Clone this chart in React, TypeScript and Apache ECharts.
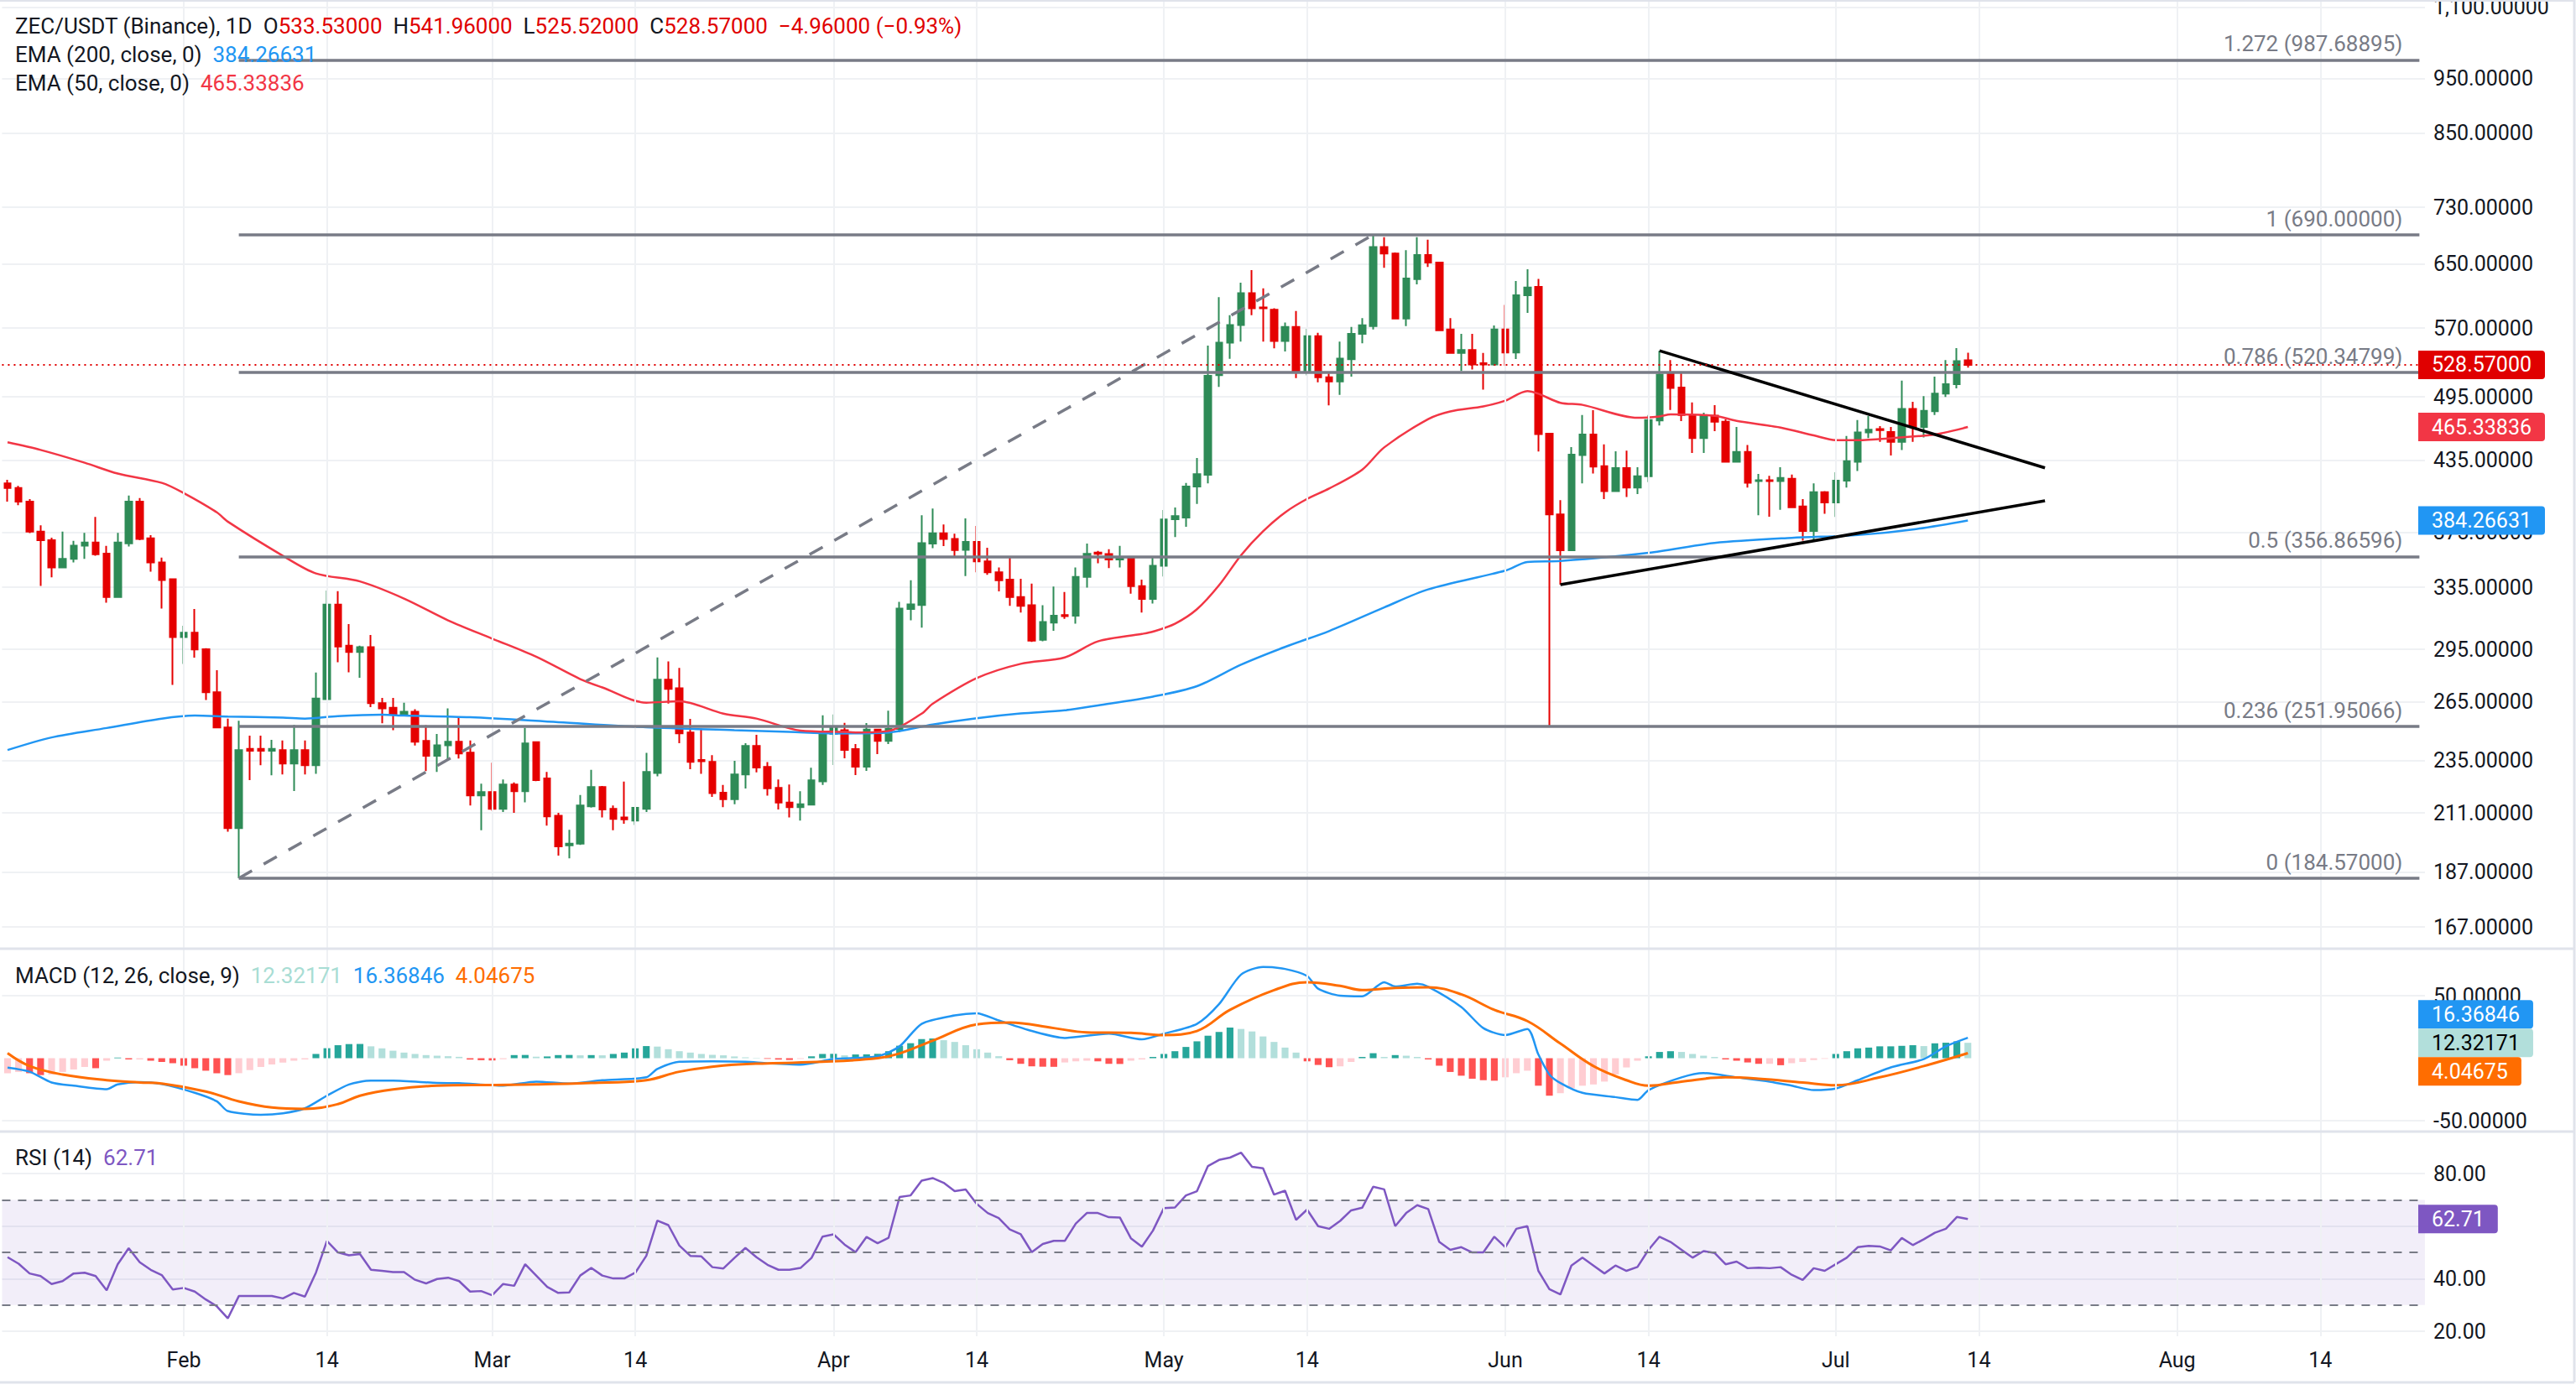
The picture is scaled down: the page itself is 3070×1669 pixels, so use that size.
import { useEffect, useRef } from "react";
import * as echarts from "echarts";

// ---------------- DATA ----------------
const FIRST_DAY_UTC = Date.UTC(2026, 0, 16); // first category: 2026-01-16
const DAY_COUNT = 220; // through 2026-08-23 (empty future space)

// daily candles [open, high, low, close], starting 2026-01-16
const candles: number[][] = [
  [414.5, 417.7, 399.4, 410.6], [410.6, 412.4, 396.4, 399.4], [399.4, 401.5, 374.4, 375.6], [375.6, 380.4, 336.0, 369.0],
  [369.0, 370.9, 341.9, 348.9], [348.9, 375.6, 348.9, 355.1], [355.1, 368.5, 352.6, 364.9], [364.9, 374.6, 355.1, 367.3],
  [367.3, 387.0, 357.4, 358.5], [359.0, 364.7, 324.6, 328.4], [328.4, 374.6, 328.0, 367.3], [366.6, 404.3, 364.2, 399.4],
  [399.4, 402.3, 369.0, 369.9], [370.4, 372.8, 346.0, 352.6], [352.6, 356.0, 320.8, 340.1], [340.6, 341.0, 274.3, 302.5],
  // Feb
  [302.5, 309.7, 286.4, 305.3], [305.3, 320.5, 290.0, 295.0], [295.1, 295.7, 265.9, 270.2], [270.2, 282.7, 250.9, 251.4],
  [251.4, 256.0, 203.0, 204.5], [204.5, 254.8, 184.57, 240.0], [240.6, 247.2, 225.7, 239.7], [240.6, 247.2, 232.7, 239.7],
  [239.7, 245.1, 227.9, 240.6], [240.0, 244.8, 228.3, 233.5], [233.5, 252.7, 220.7, 240.0], [240.0, 244.8, 228.3, 232.7],
  [232.7, 281.3, 228.6, 266.7], [266.4, 332.8, 266.4, 323.4], [323.4, 332.4, 287.3, 296.8], [297.2, 310.7, 281.5, 293.4],
  [293.4, 297.2, 278.3, 296.3], [296.3, 303.9, 262.1, 264.2], [264.2, 267.1, 253.5, 261.4], [261.7, 267.1, 250.0, 258.4],
  [258.4, 264.4, 258.0, 259.6], [259.6, 260.9, 242.2, 244.1], [244.5, 252.6, 229.9, 237.2], [237.2, 248.0, 229.5, 242.4],
  [242.4, 261.4, 235.1, 244.1], [244.1, 256.5, 235.9, 238.3], [238.7, 244.8, 214.2, 218.7], [218.7, 224.0, 203.6, 220.2],
  // Mar
  [220.2, 233.9, 211.9, 212.8], [212.8, 226.0, 211.4, 223.6], [223.6, 224.6, 211.0, 220.6], [220.6, 251.2, 215.6, 243.3],
  [243.9, 244.1, 225.2, 225.7], [226.4, 229.5, 205.6, 209.5], [209.8, 211.0, 193.3, 197.0], [197.4, 203.8, 192.2, 198.1],
  [198.1, 218.9, 197.6, 214.2], [213.9, 230.5, 213.3, 222.5], [222.5, 223.0, 209.0, 212.5], [212.8, 214.2, 203.6, 208.4],
  [209.0, 225.0, 206.4, 208.2], [207.7, 213.6, 205.8, 213.2], [212.8, 238.6, 211.4, 229.5], [229.0, 290.2, 227.4, 277.2],
  [277.2, 287.8, 264.0, 272.1], [272.4, 284.0, 243.4, 248.4], [248.8, 255.8, 230.8, 234.3], [235.2, 250.8, 228.6, 234.6],
  [234.3, 237.5, 218.0, 219.7], [219.9, 223.4, 213.5, 217.0], [217.0, 234.8, 214.8, 228.3], [228.3, 243.4, 221.8, 242.0],
  [242.0, 247.6, 229.3, 231.6], [231.9, 234.2, 218.6, 221.9], [222.1, 226.0, 212.5, 215.5], [215.5, 223.6, 209.0, 213.5],
  [213.5, 220.6, 207.7, 214.8], [214.6, 231.5, 214.6, 225.6], [225.1, 257.7, 223.4, 248.4],
  // Apr
  [248.1, 258.2, 232.8, 251.2], [250.0, 253.8, 236.0, 240.1], [240.5, 243.0, 228.0, 232.0], [232.0, 253.7, 230.0, 250.3],
  [250.3, 250.6, 238.0, 244.6], [244.6, 260.2, 243.0, 250.6], [250.6, 325.2, 249.0, 320.8], [320.5, 339.9, 313.1, 323.5],
  [323.1, 388.4, 308.5, 366.8], [366.4, 393.8, 363.0, 374.3], [374.3, 381.1, 364.6, 369.9], [369.9, 373.9, 355.9, 361.6],
  [361.8, 385.9, 342.8, 367.7], [367.7, 379.9, 345.5, 353.3], [353.3, 363.4, 343.7, 345.5], [345.5, 348.9, 332.2, 339.9],
  [340.4, 355.9, 322.5, 328.4], [328.4, 341.0, 318.2, 322.5], [322.9, 337.6, 299.6, 300.3], [300.9, 322.9, 300.0, 312.0],
  [311.6, 335.6, 306.4, 316.1], [316.5, 331.8, 314.1, 315.8], [316.1, 348.9, 311.0, 342.3], [342.3, 366.4, 334.9, 358.9],
  [359.8, 361.0, 351.9, 358.9], [358.6, 362.2, 348.5, 354.7], [354.7, 364.8, 348.9, 355.9], [355.5, 356.0, 330.7, 335.8],
  [335.8, 340.4, 318.2, 327.1], [327.1, 357.0, 324.1, 350.1],
  // May
  [350.1, 392.6, 342.6, 385.0], [385.2, 394.6, 371.4, 387.7], [386.5, 415.0, 379.3, 412.0], [412.0, 436.8, 397.4, 422.5],
  [421.9, 549.8, 414.5, 516.9], [517.6, 607.2, 505.3, 553.3], [553.3, 585.1, 535.2, 573.6], [573.6, 625.6, 554.3, 612.3],
  [612.3, 641.9, 585.1, 593.6], [594.6, 618.2, 554.3, 593.6], [591.9, 593.7, 546.7, 555.0], [555.0, 576.6, 543.2, 571.2],
  [571.2, 590.3, 514.5, 521.6], [521.6, 569.1, 517.3, 560.5], [560.5, 564.4, 510.1, 515.3], [515.3, 519.4, 486.4, 510.8],
  [510.8, 554.3, 497.1, 535.5], [534.8, 571.2, 516.0, 563.3], [563.3, 581.8, 552.4, 573.2], [572.4, 690.0, 568.3, 673.1],
  [673.1, 686.7, 645.0, 664.1], [664.1, 665.4, 580.7, 581.3], [581.3, 668.5, 572.4, 630.9], [630.2, 686.7, 623.4, 662.2],
  [662.2, 683.1, 645.9, 651.9], [651.9, 653.0, 566.5, 567.5], [568.3, 581.6, 541.0, 541.7], [541.7, 563.3, 521.9, 545.0],
  [545.0, 563.3, 523.6, 529.1], [530.4, 541.7, 502.3, 528.9], [528.9, 573.1, 527.6, 568.3],
  // Jun
  [568.3, 597.7, 527.6, 542.2], [542.2, 627.7, 535.0, 609.6], [609.6, 643.1, 588.1, 619.4], [620.3, 630.5, 442.6, 458.6],
  [459.0, 459.5, 252.0, 389.0], [389.0, 400.6, 336.9, 361.4], [361.4, 446.6, 361.0, 439.7], [439.4, 476.9, 414.5, 458.3],
  [458.3, 481.7, 423.1, 429.0], [429.4, 449.1, 401.5, 408.0], [408.0, 442.7, 408.0, 427.8], [427.8, 443.4, 403.2, 411.0],
  [411.0, 428.6, 405.6, 420.6], [420.6, 476.9, 415.7, 472.1], [471.6, 544.1, 466.7, 518.3], [518.8, 533.9, 481.9, 504.1],
  [504.5, 519.7, 471.0, 477.0], [477.0, 489.4, 441.3, 454.9], [454.9, 479.2, 441.3, 476.4], [476.4, 486.7, 461.4, 470.5],
  [470.5, 472.9, 432.6, 433.4], [433.4, 465.4, 433.4, 442.2], [442.2, 448.6, 411.0, 415.2], [416.5, 422.7, 388.4, 417.2],
  [417.2, 421.1, 387.2, 416.5], [416.5, 428.6, 392.7, 419.3], [418.6, 422.2, 394.4, 394.8], [395.4, 401.5, 368.6, 376.0],
  [376.0, 414.5, 369.7, 407.2], [407.2, 408.0, 389.6, 398.7],
  // Jul
  [398.7, 424.1, 387.0, 416.9], [416.9, 456.9, 411.0, 433.9], [433.4, 472.1, 425.3, 460.2], [460.2, 476.0, 454.9, 462.8],
  [463.4, 466.1, 451.5, 462.4], [460.7, 465.4, 438.9, 451.5], [451.5, 511.7, 443.9, 483.0], [483.0, 490.0, 451.5, 465.4],
  [465.4, 495.8, 455.5, 481.1], [480.6, 515.9, 476.9, 498.4], [498.4, 533.9, 494.9, 508.0], [508.0, 547.1, 503.8, 532.7],
  [533.53, 541.96, 525.52, 528.57],
];

// EMA lines, sampled [day index from 2026-01-16, value]
const ema50Pts: number[][] = [
  [0, 451], [3, 444], [7, 432.5], [10, 423], [14, 415], [16, 406.4], [19, 390.7], [20, 383.3], [25, 357.4], [28, 344.7],
  [32, 339.1], [36, 327.4], [40, 313.1], [44, 301.6], [48, 290.6], [52, 277.6], [54, 272.9], [58, 264.5], [61, 265.2],
  [65, 258.6], [68, 256], [72, 249.8], [76, 249.1], [77, 248.8], [80, 249.6], [83, 258.6], [84, 263.9], [88, 278.1],
  [92, 286.4], [96, 290.2], [99, 299.9], [103, 304.5], [104, 305.9], [106, 310.9], [108, 320.3], [110, 336.4],
  [112, 357.8], [114, 375.8], [116, 390.6], [118, 401.6], [120, 410.2], [123, 426.4], [125, 446.3], [129, 473],
  [131, 480.5], [134, 485.5], [136, 491.2], [138, 501], [139, 498.2], [141, 489], [143, 487], [148, 474.2],
  [150, 475.6], [151, 477.6], [155, 476.2], [157, 471.3], [161, 464.8], [164, 457.4], [166, 453], [168, 453],
  [171, 454.8], [175, 458.3], [178, 465.33836],
];
const ema200Pts: number[][] = [
  [0, 240], [4, 246.3], [9, 251.1], [14, 256], [17, 257.6], [20, 257.1], [25, 256.5], [27, 256], [30, 257.3], [34, 258],
  [36, 257.6], [42, 256.7], [50, 254.1], [58, 251.5], [66, 250], [71, 249.1], [75, 248.3], [80, 248.8], [84, 252.9],
  [88, 256.2], [92, 258.7], [96, 260.4], [99, 263], [104, 267.8], [108, 273.6], [112, 285.9], [116, 296.5],
  [120, 306.3], [125, 321.5], [129, 333.6], [136, 346.7], [138, 352.8], [141, 353.6], [149, 359.6], [155, 366.9],
  [162, 370.8], [168, 372.9], [173, 377.2], [178, 384.26631],
];

// MACD (12, 26, close, 9)
const macdPts: number[][] = [
  [0, -7.5], [2, -10.8], [4, -19.4], [6, -22], [9, -24.8], [10, -21], [12, -19.1], [14, -20.7], [17, -27.7], [19, -34.5],
  [20, -42.3], [23, -45.3], [25, -44.1], [27, -40.1], [29, -30], [31, -21], [33, -18], [35, -18], [39, -19.8], [41, -20],
  [45, -22], [48, -18.7], [51, -20.3], [54, -17.6], [58, -15.3], [59, -8.6], [61, -2.9], [64, -2.5], [67, -2.9],
  [69, -4.1], [72, -5.2], [75, -0.7], [79, 1.6], [81, 9.5], [83, 27.5], [86, 34.2], [88, 36], [90, 30.2], [93, 21.8],
  [96, 16.2], [100, 19.6], [103, 15.1], [105, 19.6], [108, 27.5], [110, 43.2], [112, 66.9], [114, 73], [116, 71.4],
  [118, 65.8], [119, 55.6], [121, 50], [123, 49.5], [125, 60.8], [126, 57.4], [128, 59.5], [129, 57.2], [132, 41],
  [134, 24.1], [136, 18.5], [138, 23.4], [139, 3], [140, -13], [141, -19.8], [143, -27.7], [146, -31.1], [148, -33.3],
  [149, -25.5], [152, -15.3], [154, -11.9], [157, -15.3], [160, -18.7], [162, -22], [164, -25.5], [166, -24.3],
  [168, -17.6], [171, -7.4], [174, -0.7], [176, 9.5], [178, 16.36846],
];
const signalPts: number[][] = [
  [0, 4], [2, -6.3], [5, -13.1], [9, -17.6], [12, -19.4], [14, -20.3], [18, -26.6], [21, -34.5], [24, -39.4], [27, -40.5],
  [30, -36.7], [32, -30], [35, -25], [39, -22], [44, -21.4], [48, -21], [53, -19.8], [58, -17.6], [61, -10.8], [65, -5.9],
  [69, -4.1], [74, -2.9], [79, 0], [81, 3.8], [84, 14], [88, 27], [91, 28.6], [95, 24.1], [98, 20.7], [102, 20.3],
  [105, 18.5], [108, 21.8], [111, 38.7], [115, 54.5], [118, 60.8], [121, 57.9], [123, 54.5], [126, 56.3], [129, 56.8],
  [132, 51.1], [135, 38.7], [138, 29.7], [141, 11.7], [144, -6.3], [147, -17.6], [149, -22], [152, -18.7], [156, -15.3],
  [159, -16.4], [163, -19.4], [166, -21.6], [170, -15.3], [174, -6.3], [178, 4.04675],
];
const macdHist: number[] = [
  -12, -11, -12, -13.5, -13, -11, -9, -7, -8, -2, 0.5, -1, -1, -2, -3, -4,
  -6, -8, -10, -12, -13.5, -12, -9.5, -7, -5, -3.5, -2, -1, 3.4, 8, 10.4, 11.3, 11.4, 9.5, 7.9, 6, 4.5, 3.4, 2.5, 2,
  1.6, 1.1, -1.1, -1.6, -1.8, -0.8, 2.5, 2.6, 1.2, 1.4, 2.5, 2.6, 2.3, 2.5, 2.3, 3.4, 4.5, 7.9, 9.7, 9.3, 7.2, 5.6,
  4.5, 3.4, 2.7, 2.3, 1.4, 0.7, 0.3, -0.5, -1.1, -1.4, -0.6, 1.5, 3.4, 3.5, 2.3, 3, 3.1, 3.5, 5.6, 10, 12, 15.3, 15.8,
  14.4, 13, 10.4, 7.2, 4.5, 1.6, -1.6, -4.5, -6.5, -6.8, -6.9, -3.4, -2.5, -2, -2.5, -4.5, -4.6, -2, -1, 1, 3.4, 5.6,
  9, 13.5, 18, 21, 24.5, 23.4, 21.4, 17.4, 13, 8.5, 4.5, -2.5, -5.4, -7.2, -6.5, -3, 1, 4, 1, 2.5, 2, 1, -1, -6, -11,
  -14, -16.4, -17.6, -18, -15.3, -12, -10, -22, -30, -28, -24, -22, -21, -18.7, -13, -7.4, -2, 1.5, 5, 5.6, 5, 3.4,
  2, 1, -1, -2, -3.4, -4.5, -4.5, -5.6, -4, -3, -1.5, -0.5, 3.4, 5.6, 7.9, 8.5, 9.5, 9.5, 9.9, 10.4, 9.7, 11.9, 12.4,
  13.5, 12.32171,
];
// RSI (14)
const rsi: number[] = [
  48.2, 45.7, 42, 41, 38, 39.1, 42, 42.3, 41, 35.6, 45.5, 51.6, 46.3, 43.4, 41.4, 35.9,
  36.5, 35.1, 32.1, 29.5, 24.9, 33.4, 33.4, 33.4, 33.4, 32.5, 34.6, 33.2, 42.3, 54.4, 50, 48.9, 49.4, 43.4, 43, 42.5,
  42.5, 39.6, 38.2, 39.9, 40.4, 39.1, 35.1, 35.3, 33.7, 38, 37.3, 45.5, 41.2, 36.9, 34.6, 34.8, 41.2, 44.1, 41.2, 40.1,
  40.1, 42.3, 48.7, 62.1, 60.4, 52.6, 48.7, 48.5, 44.4, 43.9, 47.9, 51.7, 48.2, 45.3, 43.4, 43.4, 44.1, 47.9, 56,
  56.9, 53, 50.1, 55.9, 53.5, 55.6, 71.1, 71.7, 77.3, 78.3, 76.5, 73.3, 74, 68.5, 65, 63.1, 58.8, 56.9, 50.1, 53.2,
  54.4, 54.4, 61, 65, 65, 63.4, 63.3, 55.4, 52.2, 58.3, 66.9, 67.1, 71.7, 73.3, 82.9, 85.2, 86.1, 88, 82.6, 82, 72,
  73.5, 62.4, 66.3, 60, 59, 62, 66, 67, 75, 74, 60, 65, 68, 66.5, 54, 51, 52, 50, 50, 56, 52, 59, 60,
  43, 36, 34, 45, 48, 45, 42, 45, 43, 44.5, 51, 56, 54, 51, 48, 50.5, 49.8, 45.5, 46.5, 44, 44.2, 44, 44.4, 41.5, 39.5,
  44, 43, 45.5, 48, 52, 52.5, 52.3, 50.8, 55.5, 52.8, 55, 57.5, 59, 63.5, 62.71,
];

// price-axis ticks and Fibonacci levels
const priceTicks = [1100, 950, 850, 730, 650, 570, 495, 435, 375, 335, 295, 265, 235, 211, 187, 167];
const macdTicks = [-50, 50];
const rsiTicks = [20, 40, 60, 80];
const fibRatios = ["1.272", "1", "0.786", "0.5", "0.236", "0"];
const fibPrices = [987.68895, 690, 520.34799, 356.86596, 251.95066, 184.57];
const fibStart = "2026-02-06";
const swingLine = [["2026-02-06", 184.57], ["2026-05-20", 690]];
const triangleUpper = [["2026-06-15", 544.1], ["2026-07-20", 428]];
const triangleLower = [["2026-06-06", 336.9], ["2026-07-20", 400]];
const lastClose = 528.57;
const ema200Last = 384.26631;
const ema50Last = 465.33836;
const macdLast = 16.36846;
const histLast = 12.32171;
const signalLast = 4.04675;
const rsiLast = 62.71;

// ---------------- STYLE ----------------
const FONT = "Roboto";
const TXT = "#131722";
const GRIDC = "#eff1f4";
const UP = "#2e8b57";
const DOWN = "#e50000";
const MONTHS = ["Jan", "Feb", "Mar", "Apr", "May", "Jun", "Jul", "Aug", "Sep", "Oct", "Nov", "Dec"];

const categories: string[] = Array.from({ length: DAY_COUNT }, (_, i) =>
  new Date(FIRST_DAY_UTC + i * 86400000).toISOString().slice(0, 10)
);
const gridDates = categories.filter((c) => c.endsWith("-01") || c.endsWith("-14"));

const DAY_W = 13.125;
const GRID_LEFT = 2.44;
const GRID_W = DAY_W * DAY_COUNT;

function histColor(i: number) {
  const v = macdHist[i];
  const p = i > 0 ? macdHist[i - 1] : v;
  if (v >= 0) return v >= p ? "#26a69a" : "#b2dfdb";
  return v < p ? "#ff5252" : "#ffcdd2";
}

function vGridMarkLine() {
  return {
    silent: true,
    symbol: ["none", "none"],
    label: { show: false },
    lineStyle: { color: GRIDC, width: 2, type: "solid" },
    data: gridDates.map((d) => ({ xAxis: d })),
  };
}

export default function App() {
  const ref = useRef<HTMLDivElement>(null);
  useEffect(() => {
    if (!ref.current) return;
    const chart = echarts.init(ref.current, null, { renderer: "svg" });

    const xAxisBase = (gi: number, showLabel: boolean) => ({
      type: "category",
      gridIndex: gi,
      data: categories,
      boundaryGap: true,
      axisLine: { show: false },
      axisTick: { show: false },
      splitLine: { show: false },
      axisLabel: showLabel
        ? {
            show: true,
            interval: (_i: number, v: string) => v.endsWith("-01") || v.endsWith("-14"),
            formatter: (v: string) => (v.endsWith("-01") ? MONTHS[+v.slice(5, 7) - 1] : "14"),
            color: TXT,
            fontSize: 25,
            fontFamily: FONT,
            margin: 16,
          }
        : { show: false },
    });

    const yLabel = (fmt: (v: number) => string, ticks: number[]) => ({
      axisLine: { show: false },
      axisTick: { show: false, customValues: ticks },
      axisLabel: {
        customValues: ticks,
        formatter: fmt,
        color: TXT,
        fontSize: 25,
        fontFamily: FONT,
        margin: 10,
        showMinLabel: true,
        showMaxLabel: true,
      },
      splitLine: { show: true, lineStyle: { color: GRIDC, width: 2 } },
    });

    const fibMark = fibPrices.map((p, i) => [
      {
        name: `${fibRatios[i]} (${p.toFixed(5)})`,
        coord: [fibStart, p],
        lineStyle: { color: "#787b86", width: 3.5, type: "solid" },
        label: {
          show: true,
          position: "insideEndTop",
          formatter: "{b}",
          color: "#787b86",
          fontSize: 26,
          fontFamily: FONT,
          distance: [20, 6],
        },
      },
      { coord: [categories[DAY_COUNT - 1], p] },
    ]);
    const plainLine = (pts: any[], color: string, type: any) => [
      { coord: pts[0], lineStyle: { color, width: 3.5, type }, label: { show: false } },
      { coord: pts[1] },
    ];

    const option: any = {
      animation: false,
      backgroundColor: "#ffffff",
      textStyle: { fontFamily: FONT },
      grid: [
        { left: GRID_LEFT, top: 0, width: GRID_W, height: 1130, outerBoundsMode: "none" },
        { left: GRID_LEFT, top: 1131, width: GRID_W, height: 218, outerBoundsMode: "none" },
        { left: GRID_LEFT, top: 1349, width: GRID_W, height: 244, outerBoundsMode: "none" },
      ],
      xAxis: [xAxisBase(0, false), xAxisBase(1, false), xAxisBase(2, true)],
      yAxis: [
        {
          type: "log",
          gridIndex: 0,
          position: "right",
          min: 160.0,
          max: 1116.6,
          ...yLabel(
            (v: number) =>
              v.toLocaleString("en-US", { minimumFractionDigits: 5, maximumFractionDigits: 5 }),
            priceTicks
          ),
        },
        {
          type: "value",
          gridIndex: 1,
          position: "right",
          min: -58.7,
          max: 87.6,
          ...yLabel((v: number) => v.toFixed(5), macdTicks),
        },
        {
          type: "value",
          gridIndex: 2,
          position: "right",
          min: 18.1,
          max: 96,
          ...yLabel((v: number) => v.toFixed(2), rsiTicks),
        },
      ],
      series: [
        // grid lines (main)
        { type: "line", xAxisIndex: 0, yAxisIndex: 0, data: [], z: 0, silent: true, markLine: vGridMarkLine() },
        {
          type: "candlestick",
          xAxisIndex: 0,
          yAxisIndex: 0,
          z: 2,
          barWidth: 8,
          data: candles.map(([o, h, l, c]) => [o, c, l, h]),
          itemStyle: { color: UP, color0: DOWN, borderColor: UP, borderColor0: DOWN, borderWidth: 2 },
        },
        {
          type: "line",
          name: "EMA200",
          xAxisIndex: 0,
          yAxisIndex: 0,
          z: 3,
          data: ema200Pts,
          showSymbol: false,
          smooth: 0.3,
          lineStyle: { color: "#2196f3", width: 2.5 },
        },
        {
          type: "line",
          name: "EMA50",
          xAxisIndex: 0,
          yAxisIndex: 0,
          z: 3,
          data: ema50Pts,
          showSymbol: false,
          smooth: 0.3,
          lineStyle: { color: "#f23645", width: 2.5 },
        },
        // drawings
        {
          type: "line",
          xAxisIndex: 0,
          yAxisIndex: 0,
          data: [],
          z: 5,
          silent: true,
          markLine: {
            silent: true,
            symbol: ["none", "none"],
            data: [
              ...fibMark,
              plainLine(swingLine, "#787b86", [18, 16]),
              plainLine(triangleUpper, "#000000", "solid"),
              plainLine(triangleLower, "#000000", "solid"),
              {
                yAxis: lastClose,
                lineStyle: { color: "#e00000", width: 2, type: [2, 5] },
                label: { show: false },
              },
            ],
          },
        },
        // MACD
        { type: "line", xAxisIndex: 1, yAxisIndex: 1, data: [], z: 0, silent: true, markLine: vGridMarkLine() },
        {
          type: "bar",
          xAxisIndex: 1,
          yAxisIndex: 1,
          barWidth: "62%",
          z: 2,
          data: macdHist.map((v, i) => ({ value: v, itemStyle: { color: histColor(i) } })),
        },
        {
          type: "line",
          xAxisIndex: 1,
          yAxisIndex: 1,
          z: 3,
          data: macdPts,
          showSymbol: false,
          smooth: 0.25,
          lineStyle: { color: "#2196f3", width: 2.5 },
        },
        {
          type: "line",
          xAxisIndex: 1,
          yAxisIndex: 1,
          z: 3,
          data: signalPts,
          showSymbol: false,
          smooth: 0.4,
          lineStyle: { color: "#ff6d00", width: 3 },
        },
        // RSI
        { type: "line", xAxisIndex: 2, yAxisIndex: 2, data: [], z: 0, silent: true, markLine: vGridMarkLine() },
        {
          type: "line",
          xAxisIndex: 2,
          yAxisIndex: 2,
          z: 3,
          data: rsi,
          showSymbol: false,
          lineStyle: { color: "#7e57c2", width: 2.5 },
          markArea: {
            silent: true,
            itemStyle: { color: "rgba(126,87,194,0.1)" },
            data: [[{ yAxis: 30 }, { yAxis: 70 }]],
          },
          markLine: {
            silent: true,
            symbol: ["none", "none"],
            label: { show: false },
            lineStyle: { color: "#787b86", width: 2, type: [10, 9] },
            data: [{ yAxis: 70 }, { yAxis: 50 }, { yAxis: 30 }],
          },
        },
      ],
    };
    chart.setOption(option);

    const yp = (axis: number, v: number) => chart.convertToPixel({ yAxisIndex: axis } as any, v) as number;
    const tag = (y: number, text: string, bg: string, fg = "#ffffff") => ({
      type: "text",
      z: 50,
      x: 2882,
      y,
      style: {
        text,
        fill: fg,
        font: `25px ${FONT}`,
        backgroundColor: bg,
        padding: [5, 16, 5, 16],
        borderRadius: [0, 4, 4, 0],
        lineHeight: 24,
        verticalAlign: "middle",
        align: "left",
      },
    });
    const macdMid = yp(1, histLast);
    const rich = {
      t: { fill: TXT, font: `26px ${FONT}` },
      r: { fill: "#e00000", font: `26px ${FONT}` },
      b: { fill: "#2196f3", font: `26px ${FONT}` },
      e: { fill: "#f23645", font: `26px ${FONT}` },
      g: { fill: "#a8ddd4", font: `26px ${FONT}` },
      o: { fill: "#ff6d00", font: `26px ${FONT}` },
      p: { fill: "#7e57c2", font: `26px ${FONT}` },
    };
    const legend = (y: number, text: string) => ({
      type: "text",
      z: 60,
      x: 18,
      y,
      style: { text, rich, verticalAlign: "middle", align: "left", font: `26px ${FONT}`, fill: TXT },
    });
    const hline = (y: number) => ({
      type: "line",
      z: 40,
      shape: { x1: 0, y1: y, x2: 3068, y2: y },
      style: { stroke: "#e0e3eb", lineWidth: 3 },
    });

    chart.setOption({
      graphic: [
        hline(1131),
        hline(1349),
        hline(1648),
        { type: "line", z: 40, shape: { x1: 3068, y1: 0, x2: 3068, y2: 1648 }, style: { stroke: "#e0e3eb", lineWidth: 3 } },
        { type: "line", z: 40, shape: { x1: 0, y1: 1, x2: 3068, y2: 1 }, style: { stroke: "#e0e3eb", lineWidth: 2 } },
        tag(yp(0, lastClose), lastClose.toFixed(5), "#e00000"),
        tag(yp(0, ema50Last), ema50Last.toFixed(5), "#f23645"),
        tag(yp(0, ema200Last), ema200Last.toFixed(5), "#2196f3"),
        tag(macdMid - 34, macdLast.toFixed(5), "#2196f3"),
        tag(macdMid, histLast.toFixed(5), "#b2dfdb", "#000000"),
        tag(macdMid + 34, signalLast.toFixed(5), "#ff6d00"),
        tag(yp(2, rsiLast), rsiLast.toFixed(2), "#7e57c2"),
        legend(
          31,
          "{t|ZEC/USDT (Binance), 1D}  {t|O}{r|533.53000}  {t|H}{r|541.96000}  {t|L}{r|525.52000}  {t|C}{r|528.57000}  {r|\u22124.96000 (\u22120.93%)}"
        ),
        legend(65, `{t|EMA (200, close, 0)}  {b|${ema200Last.toFixed(5)}}`),
        legend(99, `{t|EMA (50, close, 0)}  {e|${ema50Last.toFixed(5)}}`),
        legend(
          1163,
          `{t|MACD (12, 26, close, 9)}  {g|${histLast.toFixed(5)}}  {b|${macdLast.toFixed(5)}}  {o|${signalLast.toFixed(5)}}`
        ),
        legend(1380, `{t|RSI (14)}  {p|${rsiLast.toFixed(2)}}`),
      ],
    });

    return () => chart.dispose();
  }, []);

  return (
    <div
      ref={ref}
      style={{ position: "absolute", left: 0, top: 0, width: 3070, height: 1669, background: "#ffffff" }}
    />
  );
}
